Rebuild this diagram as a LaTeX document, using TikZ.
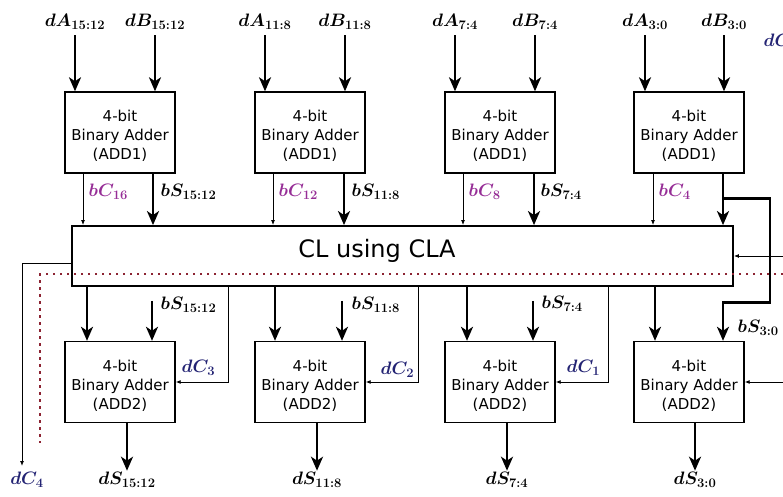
\RequirePackage{fix-cm}
\documentclass[tikz,border=0pt]{standalone}
\usepackage{fontspec}
\newfontfamily\adderfont{DejaVu Sans}
\usetikzlibrary{arrows.meta}
\DeclareMathSizes{18}{18}{13}{10}
\definecolor{bcarry}{RGB}{150,45,150}
\definecolor{dcarry}{RGB}{35,35,115}
\definecolor{sepred}{RGB}{140,35,50}

\begin{document}
\begin{tikzpicture}[x=1pt, y=-1pt,
  adder/.style = {draw, line width=1.4pt, minimum width=110pt, minimum height=81pt, inner sep=0pt, align=center, text height=57pt, text depth=3pt, font=\adderfont\fontsize{15}{19}\selectfont},
  cl/.style = {draw, line width=1.8pt, minimum width=661pt, minimum height=60pt},
  sig/.style = {inner sep=1.5pt, font=\fontsize{18}{20}\selectfont\boldmath},
  bus/.style = {line width=2.5pt, -{Stealth[length=14pt, width=12pt, inset=4pt]}},
  wire/.style = {line width=0.9pt, -{Latex[length=5pt, width=4pt]}}]
\useasboundingbox (0,0) rectangle (783,497);

\node[adder] (a1) at (120,132.5) {4-bit\\Binary Adder\\(ADD1)};
\node[adder] (a2) at (310,132.5) {4-bit\\Binary Adder\\(ADD1)};
\node[adder] (a3) at (500,132.5) {4-bit\\Binary Adder\\(ADD1)};
\node[adder] (a4) at (689,132.5) {4-bit\\Binary Adder\\(ADD1)};
\node[cl] (cla) at (402.5,256) {};
\node[font=\adderfont\fontsize{24}{26}\selectfont] (clt) at (377,251) {CL using CLA};
\node[adder] (s1) at (120,382) {4-bit\\Binary Adder\\(ADD2)};
\node[adder] (s2) at (310,382) {4-bit\\Binary Adder\\(ADD2)};
\node[adder] (s3) at (500,382) {4-bit\\Binary Adder\\(ADD2)};
\node[adder] (s4) at (689,382) {4-bit\\Binary Adder\\(ADD2)};

\node[sig] (dA1) at (75,22) {$dA_{15:12}$};
\node[sig] (dB1) at (155,22) {$dB_{15:12}$};
\node[sig] (dA2) at (265,22) {$dA_{11:8}$};
\node[sig] (dB2) at (345,22) {$dB_{11:8}$};
\node[sig] (dA3) at (455,22) {$dA_{7:4}$};
\node[sig] (dB3) at (535,22) {$dB_{7:4}$};
\node[sig] (dA4) at (645,22) {$dA_{3:0}$};
\node[sig] (dB4) at (724,22) {$dB_{3:0}$};
\node[sig, text=dcarry, anchor=west] (dC0) at (762,42) {$dC_0$};

\node[sig, text=bcarry, anchor=west] (bC16) at (87,192) {$bC_{16}$};
\node[sig, text=bcarry, anchor=west] (bC12) at (277,192) {$bC_{12}$};
\node[sig, text=bcarry, anchor=west] (bC8) at (467,192) {$bC_{8}$};
\node[sig, text=bcarry, anchor=west] (bC4) at (657,192) {$bC_{4}$};
\node[sig, anchor=west] (bS1) at (159,192) {$bS_{15:12}$};
\node[sig, anchor=west] (bS2) at (350,192) {$bS_{11:8}$};
\node[sig, anchor=west] (bS3) at (539,192) {$bS_{7:4}$};

\node[sig, anchor=west] (cS1) at (159,305) {$bS_{15:12}$};
\node[sig, anchor=west] (cS2) at (350,305) {$bS_{11:8}$};
\node[sig, anchor=west] (cS3) at (540,304) {$bS_{7:4}$};
\node[sig, anchor=west] (cS4) at (736,328) {$bS_{3:0}$};
\node[sig, text=dcarry, anchor=west] (dC3) at (180,368) {$dC_3$};
\node[sig, text=dcarry, anchor=west] (dC2) at (379,370) {$dC_2$};
\node[sig, text=dcarry, anchor=west] (dC1) at (565,368) {$dC_1$};
\node[sig, text=dcarry] (dC4) at (27,480) {$dC_4$};
\node[sig] (dS1) at (127,480) {$dS_{15:12}$};
\node[sig] (dS2) at (317,480) {$dS_{11:8}$};
\node[sig] (dS3) at (507,480) {$dS_{7:4}$};
\node[sig] (dS4) at (695,480) {$dS_{3:0}$};
\coordinate (c4) at (22,466);
\coordinate (cin) at (795,256);

\draw[bus, shorten <=4pt] (dA1) -- (dA1 |- a1.north);
\draw[bus, shorten <=4pt] (dB1) -- (dB1 |- a1.north);
\draw[bus, shorten <=4pt] (dA2) -- (dA2 |- a2.north);
\draw[bus, shorten <=4pt] (dB2) -- (dB2 |- a2.north);
\draw[bus, shorten <=4pt] (dA3) -- (dA3 |- a3.north);
\draw[bus, shorten <=4pt] (dB3) -- (dB3 |- a3.north);
\draw[bus, shorten <=4pt] (dA4) -- (dA4 |- a4.north);
\draw[bus, shorten <=4pt] (dB4) -- (dB4 |- a4.north);

\draw[wire] ([xshift=-37pt]a1.south) -- ([xshift=-37pt]a1.south |- cla.north);
\draw[wire] ([xshift=-37pt]a2.south) -- ([xshift=-37pt]a2.south |- cla.north);
\draw[wire] ([xshift=-37pt]a3.south) -- ([xshift=-37pt]a3.south |- cla.north);
\draw[wire] ([xshift=-36pt]a4.south) -- ([xshift=-36pt]a4.south |- cla.north);
\draw[bus] ([xshift=33pt]a1.south) -- ([xshift=33pt]a1.south |- cla.north);
\draw[bus] ([xshift=34pt]a2.south) -- ([xshift=34pt]a2.south |- cla.north);
\draw[bus] ([xshift=34pt]a3.south) -- ([xshift=34pt]a3.south |- cla.north);
\draw[bus] ([xshift=34pt]a4.south) -- ([xshift=34pt]a4.south |- cla.north);
\draw[bus] ([xshift=34pt,yshift=-25pt]a4.south) -- ++(47,0) -- ++(0,104) -- ++(-47,0) -- ([xshift=34pt]s4.north);

\draw[wire] (cin) -- (cla.east);
\draw[wire] (cin |- s4.east) -- (s4.east);
\draw[wire] ([yshift=-7pt]cla.west) -| (c4);

\draw[bus] ([xshift=-33pt]s1.north |- cla.south) -- ([xshift=-33pt]s1.north);
\draw[bus] ([xshift=-35pt]s2.north |- cla.south) -- ([xshift=-35pt]s2.north);
\draw[bus] ([xshift=-33pt]s3.north |- cla.south) -- ([xshift=-33pt]s3.north);
\draw[bus] ([xshift=-34pt]s4.north |- cla.south) -- ([xshift=-34pt]s4.north);
\draw[bus] ([xshift=32pt,yshift=40pt]s1.north) -- ([xshift=32pt]s1.north);
\draw[bus] ([xshift=32pt,yshift=40pt]s2.north) -- ([xshift=32pt]s2.north);
\draw[bus] ([xshift=33pt,yshift=40pt]s3.north) -- ([xshift=33pt]s3.north);
\draw[wire] ([xshift=53pt]s1.east |- cla.south) |- (s1.east);
\draw[wire] ([xshift=53pt]s2.east |- cla.south) |- (s2.east);
\draw[wire] ([xshift=53pt]s3.east |- cla.south) |- (s3.east);

\draw[bus] (s1.south -| dS1) -- (dS1);
\draw[bus] (s2.south -| dS2) -- (dS2);
\draw[bus] (s3.south -| dS3) -- (dS3);
\draw[bus] (s4.south -| dS4) -- (dS4);

\draw[sepred, line width=2.2pt, dash pattern=on 2.5pt off 4.5pt] (790,274) -- (40,274) -- (40,443);
\end{tikzpicture}
\end{document}
